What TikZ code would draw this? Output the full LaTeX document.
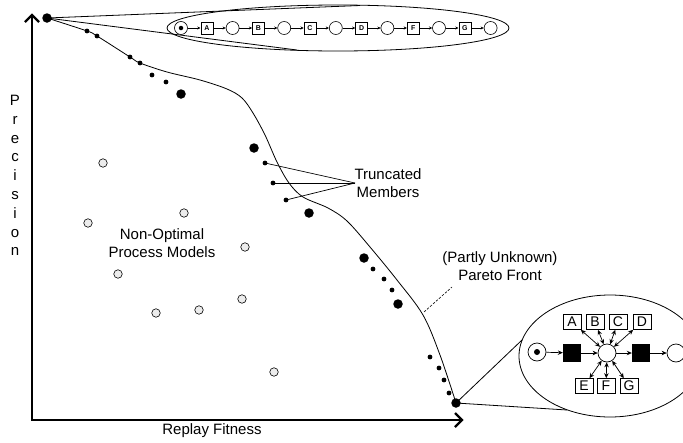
\documentclass[tikz,border=0pt]{standalone}
\usepackage{fontspec}
\setmainfont{Liberation Sans}
\usetikzlibrary{arrows.meta,shapes.geometric}
\begin{document}
\begin{tikzpicture}[x=1pt,y=-1pt,
  font=\fontsize{15}{18}\selectfont,
  axis/.style={line width=2.6pt,line join=miter},
  chevron/.style={line width=2.2pt,line join=miter,line cap=butt},
  dotS/.style={circle,fill,inner sep=0pt,minimum size=4.8pt},
  dotL/.style={circle,fill,inner sep=0pt,minimum size=9.5pt},
  hollow/.style={circle,draw,line width=0.6pt,fill=gray!15,inner sep=0pt,minimum size=8.5pt},
  front/.style={line width=0.8pt},
  lens/.style={line width=0.8pt},
  lensshape/.style={draw,lens,ellipse,inner sep=0pt},
  splace/.style={circle,draw,line width=0.6pt,inner sep=0pt,minimum size=13pt},
  strans/.style={draw,line width=0.6pt,inner sep=0pt,minimum size=12pt,font=\fontsize{7}{8}\selectfont\bfseries},
  sarc/.style={line width=0.6pt,-{Stealth[length=3.2pt,width=3pt]}},
  bplace/.style={circle,draw,line width=0.7pt,inner sep=0pt,minimum size=18pt},
  btrans/.style={fill,inner sep=0pt,minimum size=18pt},
  bbox/.style={draw,line width=0.7pt,inner sep=0pt,minimum width=18pt,minimum height=15pt,font=\fontsize{14}{15}\selectfont},
  barc/.style={line width=0.7pt,-{Stealth[length=5pt,width=4.5pt]}},
  bdbl/.style={line width=0.7pt,{Stealth[length=5pt,width=4.5pt]}-{Stealth[length=5pt,width=4.5pt]}},
  token/.style={circle,fill,inner sep=0pt,minimum size=#1}
]
\useasboundingbox (0,0) rectangle (683,442);

% axes with open chevron heads
\coordinate (ytip) at (32,15);
\coordinate (orig) at (32,420);
\coordinate (xtip) at (462,420);
\draw[axis] (ytip) -- (orig) -- (xtip);
\draw[chevron] ([shift={(-7,7)}]ytip) -- (ytip) -- ([shift={(7,7)}]ytip);
\draw[chevron] ([shift={(-7,-7)}]xtip) -- (xtip) -- ([shift={(-7,7)}]xtip);
\node (xlabel) at (212,431) {Replay Fitness};
\foreach \c [count=\k from 0] in {P,r,e,c,i,s,i,o,n}
  \node[anchor=base,inner sep=0pt] (ylab\k) at (15,{105.5+18.8*\k}) {\c};

% Pareto front curve
\draw[front] plot[smooth,tension=0.55] coordinates {
  (47,18) (87,31) (97,36) (130,57) (140,63) (167,72) (200,80) (227,89)
  (242,98) (253,113) (265,135) (277,162) (289,183) (303,197) (328,208)
  (347,221) (370,247) (397,280) (423,315) (440,355) (456,403)};

% members on the front
\node[dotL] (m0) at (47,18) {};
\node[dotS] (m1) at (87,31) {};
\node[dotS] (m2) at (97,36) {};
\node[dotS] (m3) at (130,57) {};
\node[dotS] (m4) at (140,63) {};
\node[dotS] (m5) at (152,75) {};
\node[dotS] (m6) at (166,82) {};
\node[dotL] (m7) at (181,94) {};
\node[dotL] (m8) at (254,148) {};
\node[dotS] (m9) at (265,163) {};
\node[dotS] (m10) at (273,183) {};
\node[dotS] (m11) at (286,200) {};
\node[dotL] (m12) at (309,213) {};
\node[dotL] (m13) at (364,258) {};
\node[dotS] (m14) at (373,269) {};
\node[dotS] (m15) at (384,279) {};
\node[dotS] (m16) at (392,290) {};
\node[dotL] (m17) at (398,304) {};
\node[dotS] (m18) at (430,357) {};
\node[dotS] (m19) at (439,368) {};
\node[dotS] (m20) at (444,380) {};
\node[dotS] (m21) at (449,393) {};
\node[dotL] (m22) at (456,403) {};

% non-optimal models
\node[hollow] (n1) at (103,163) {};
\node[hollow] (n2) at (88,223) {};
\node[hollow] (n3) at (184,213) {};
\node[hollow] (n4) at (245,247) {};
\node[hollow] (n5) at (118,274) {};
\node[hollow] (n6) at (156,313) {};
\node[hollow] (n7) at (199,310) {};
\node[hollow] (n8) at (242,299) {};
\node[hollow] (n9) at (274,372) {};
\node[align=center,inner sep=0pt] (nonopt) at (162,243) {Non-Optimal\\Process Models};

% truncated members
\coordinate (trc) at (355,183);
\draw[line width=0.7pt] (m9.center) -- (trc);
\draw[line width=0.7pt] (m10.center) -- (trc);
\draw[line width=0.7pt] (m11.center) -- (trc);
\node[align=center,inner sep=0pt] (trlabel) at (388,183) {Truncated\\Members};

% pareto front label
\node[align=center,inner sep=0pt] (pflabel) at (500,266) {(Partly Unknown)\\Pareto Front};
\coordinate (pf1) at (424,312);
\coordinate (pf2) at (452,287);
\draw[line width=0.6pt,dash pattern=on 2.5pt off 1.5pt] (pf1) -- (pf2);

% zoom lens: sequential model
\node[lensshape,minimum width=342pt,minimum height=46pt] (lensT) at (338,28) {};
\coordinate (lt1) at (360,5.5);
\coordinate (lt2) at (297,50);
\draw[lens] (m0.center) -- (lt1);
\draw[lens] (m0.center) -- (lt2);

\node[splace] (sp0) at (181,28) {};
\node[token=4.5pt] (stok) at (sp0.center) {};
\foreach \i/\l in {1/A,2/B,3/C,4/D,5/F,6/G}{
  \node[strans] (st\i) at ({181+51.6*\i-25.8},28) {\l};
  \node[splace] (sp\i) at ({181+51.6*\i},28) {};
}
\foreach \i [evaluate=\i as \j using int(\i-1)] in {1,...,6}{
  \draw[sarc] (sp\j) -- (st\i);
  \draw[sarc] (st\i) -- (sp\i);
}

% zoom lens: flower-like model
\node[lensshape,minimum width=182pt,minimum height=122pt] (lensB) at (610,356) {};
\coordinate (lb1) at (522,340);
\coordinate (lb2) at (567,410);
\draw[lens] (m22.center) -- (lb1);
\draw[lens] (m22.center) -- (lb2);

\node[bplace] (bp0) at (537,352) {};
\node[token=6pt] (btok) at (bp0.center) {};
\node[btrans] (bt1) at (572,353) {};
\node[bplace] (bc) at (607,353) {};
\node[btrans] (bt2) at (641,353) {};
\node[bplace] (bp1) at (676,353) {};
\draw[barc] (bp0) -- (bt1);
\draw[barc] (bt1) -- (bc);
\draw[barc] (bc) -- (bt2);
\draw[barc] (bt2) -- (bp1);

\node[bbox] (bA) at (572,322) {A};
\node[bbox] (bB) at (595,322) {B};
\node[bbox] (bC) at (618,322) {C};
\node[bbox] (bD) at (642,322) {D};
\node[bbox] (bE) at (584,386) {E};
\node[bbox] (bF) at (606,386) {F};
\node[bbox] (bG) at (629,386) {G};
\foreach \b in {bA,bB,bC,bD,bE,bF,bG}
  \draw[bdbl] (\b) -- (bc);
\end{tikzpicture}
\end{document}
